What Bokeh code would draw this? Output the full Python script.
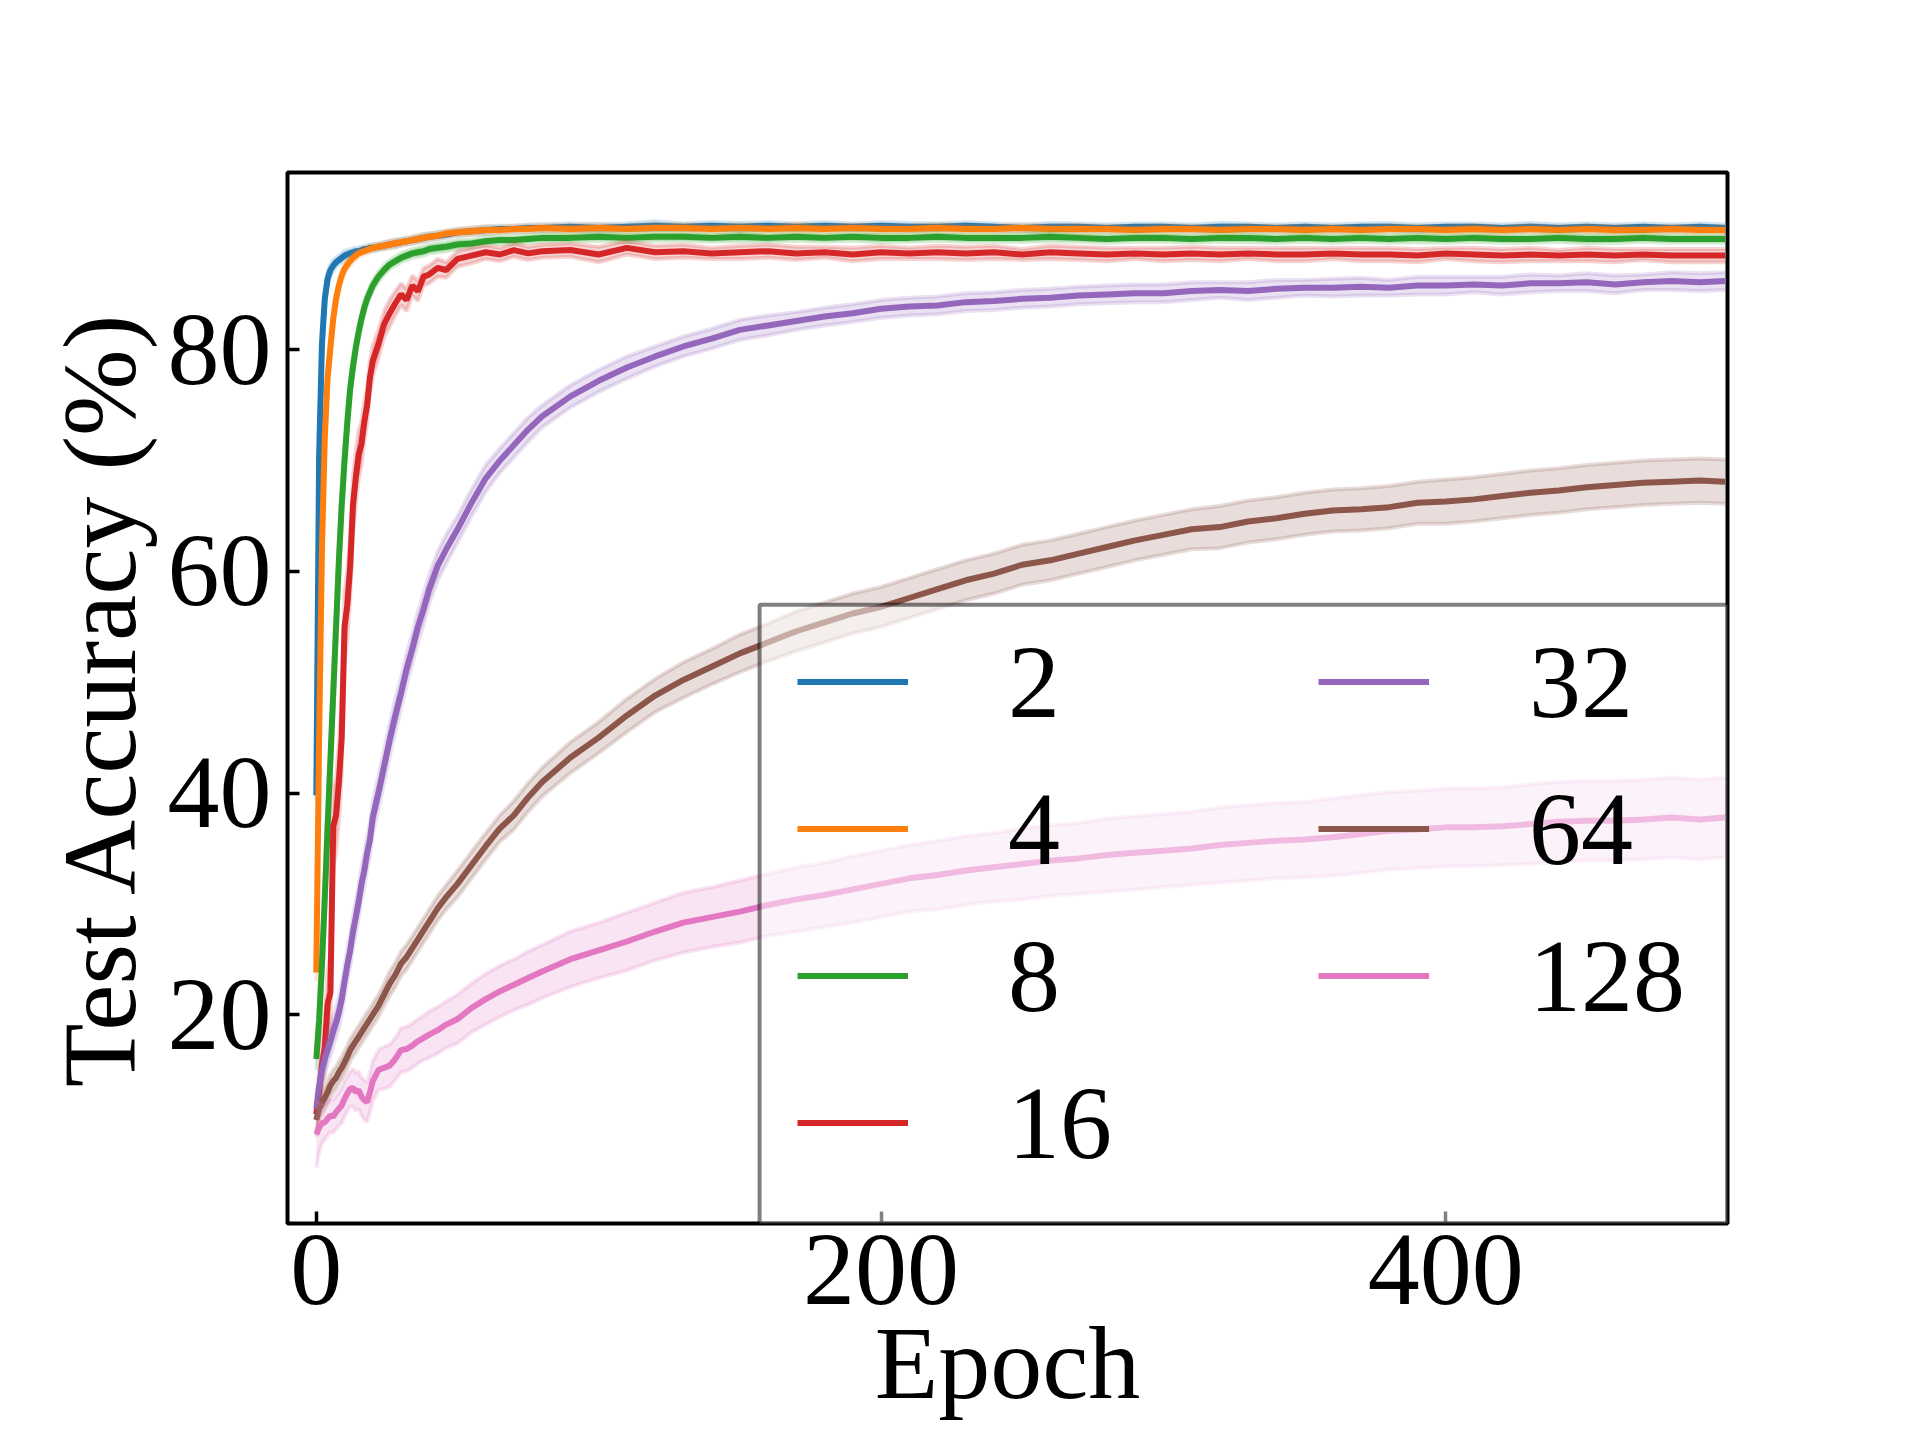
import numpy as np
from bokeh.plotting import figure
from bokeh.models import Range1d, Legend, LegendItem, BoxAnnotation, FixedTicker
from bokeh.embed import file_html
from bokeh.resources import INLINE

# ---------------- data ----------------
epochs = [0, 1, 2, 3, 4, 5, 6, 7, 8, 9, 10, 11, 12, 13, 14, 15, 16, 17, 18, 19, 20,
          22, 24, 26, 28, 30, 32, 34, 36, 38, 40,
          43, 46, 50, 55, 60, 65, 70, 75, 80,
          90, 100, 110, 120, 130, 140, 150, 160, 170, 180,
          190, 200, 210, 220, 230, 240, 250, 260, 270, 280,
          290, 300, 310, 320, 330, 340, 350, 360, 370, 380,
          390, 400, 410, 420, 430, 440, 450, 460, 470, 480, 490,
          499]

labels = ["2", "4", "8", "16", "32", "64", "128"]
colors = ["#1f77b4", "#ff7f0e", "#2ca02c", "#d62728", "#9467bd", "#8c564b", "#e377c2"]

acc_2 = [39.8, 70.5, 80.5, 84.6, 86.4, 87.2, 87.6, 87.9, 88.1, 88.3, 88.5, 88.6, 88.7, 88.8, 88.9, 88.9, 89.0, 89.1, 89.1, 89.2, 89.2,
         89.3, 89.4, 89.5, 89.6, 89.7, 89.8, 89.9, 90.0, 90.1, 90.2,
         90.3, 90.4, 90.6, 90.7, 90.8, 90.9, 90.9, 91.0, 91.0,
         91.1, 91.0, 91.1, 91.2, 91.1, 91.2, 91.1, 91.2, 91.1, 91.2,
         91.1, 91.2, 91.1, 91.1, 91.2, 91.1, 91.0, 91.1, 91.1, 91.0,
         91.1, 91.1, 91.0, 91.1, 91.1, 91.0, 91.1, 91.0, 91.1, 91.1,
         91.0, 91.1, 91.1, 91.0, 91.1, 91.0, 91.1, 91.0, 91.1, 91.0, 91.1,
         91.0]
acc_4 = [23.8, 45.0, 62.0, 72.0, 77.5, 80.2, 82.8, 84.6, 85.8, 86.7, 87.3, 87.7, 88.0, 88.3, 88.5, 88.7, 88.8, 88.9, 89.0, 89.1, 89.2,
         89.3, 89.4, 89.5, 89.6, 89.7, 89.8, 89.9, 90.0, 90.1, 90.2,
         90.3, 90.5, 90.6, 90.7, 90.8, 90.8, 90.9, 90.9, 91.0,
         90.9, 91.0, 90.9, 91.0, 91.0, 90.9, 91.0, 90.9, 91.0, 90.9,
         91.0, 90.9, 90.9, 91.0, 90.9, 90.9, 91.0, 90.9, 90.9, 90.9,
         90.8, 90.9, 90.9, 90.8, 90.9, 90.9, 90.8, 90.9, 90.8, 90.9,
         90.9, 90.8, 90.9, 90.8, 90.9, 90.8, 90.9, 90.8, 90.8, 90.9, 90.8,
         90.8]
acc_8 = [16.0, 19.5, 24.5, 30.5, 37.0, 43.0, 49.0, 55.0, 61.0, 66.0, 70.0, 73.5, 76.5, 78.5, 80.2, 81.6, 82.8, 83.8, 84.6, 85.2, 85.8,
         86.6, 87.2, 87.7, 88.0, 88.3, 88.5, 88.7, 88.8, 88.9, 89.1,
         89.2, 89.3, 89.5, 89.6, 89.8, 89.9, 89.9, 90.0, 90.1,
         90.1, 90.2, 90.1, 90.2, 90.2, 90.1, 90.2, 90.1, 90.2, 90.1,
         90.2, 90.1, 90.1, 90.2, 90.1, 90.1, 90.1, 90.2, 90.1, 90.0,
         90.1, 90.1, 90.0, 90.1, 90.1, 90.0, 90.1, 90.0, 90.1, 90.0,
         90.1, 90.0, 90.1, 90.0, 90.0, 90.1, 90.0, 90.0, 90.1, 90.0, 90.0,
         90.0]
acc_16 = [11.0, 13.0, 15.5, 17.0, 21.0, 22.0, 37.0, 38.0, 41.0, 45.0, 55.0, 57.0, 60.5, 66.0, 68.5, 70.5, 71.5, 73.5, 75.0, 77.5, 79.0,
          80.5, 82.3, 83.3, 84.2, 85.0, 84.5, 85.8, 85.3, 86.6, 86.8,
          87.4, 87.2, 88.2, 88.5, 88.8, 88.6, 89.0, 88.7, 88.9,
          89.0, 88.6, 89.2, 88.8, 88.9, 88.7, 88.8, 88.9, 88.7, 88.8,
          88.6, 88.8, 88.7, 88.8, 88.7, 88.8, 88.6, 88.8, 88.7, 88.6,
          88.7, 88.6, 88.7, 88.6, 88.7, 88.6, 88.6, 88.7, 88.6, 88.6,
          88.5, 88.7, 88.6, 88.5, 88.6, 88.5, 88.6, 88.5, 88.6, 88.5, 88.5,
          88.5]
acc_32 = [11.5, 13.5, 15.0, 16.0, 16.8, 17.6, 18.5, 19.3, 20.2, 21.4, 23.0, 24.5, 25.8, 27.5, 28.8, 30.2, 31.8, 33.0, 34.6, 35.8, 37.8,
          40.0, 42.4, 44.8, 47.0, 49.0, 51.2, 53.0, 55.0, 56.6, 58.4,
          60.5, 62.0, 63.8, 66.2, 68.4, 70.0, 71.4, 72.8, 74.0,
          75.8, 77.2, 78.4, 79.4, 80.3, 81.0, 81.8, 82.2, 82.6, 83.0,
          83.3, 83.7, 83.9, 84.0, 84.3, 84.4, 84.6, 84.7, 84.9, 85.0,
          85.1, 85.1, 85.3, 85.4, 85.3, 85.5, 85.6, 85.6, 85.7, 85.6,
          85.8, 85.8, 85.9, 85.8, 86.0, 86.0, 86.1, 85.9, 86.1, 86.2, 86.1,
          86.2]
acc_64 = [10.5, 11.5, 12.0, 12.5, 13.0, 13.6, 14.0, 14.3, 14.8, 15.2, 15.7, 16.2, 16.8, 17.2, 17.6, 18.0, 18.4, 18.8, 19.2, 19.6, 20.0,
          20.8, 21.8, 22.8, 23.6, 24.6, 25.2, 26.0, 26.8, 27.6, 28.4,
          29.6, 30.6, 31.8, 33.5, 35.2, 36.8, 38.0, 39.6, 41.0,
          43.2, 45.0, 47.0, 48.8, 50.2, 51.4, 52.6, 53.6, 54.6, 55.4,
          56.2, 56.8, 57.6, 58.4, 59.2, 59.8, 60.6, 61.0, 61.6, 62.2,
          62.8, 63.3, 63.8, 64.0, 64.5, 64.8, 65.2, 65.5, 65.6, 65.8,
          66.2, 66.3, 66.5, 66.8, 67.1, 67.3, 67.6, 67.8, 68.0, 68.1, 68.2,
          68.1]
acc_128 = [9.2, 9.8, 10.2, 10.3, 10.6, 10.9, 10.8, 11.2, 11.5, 11.8, 12.4, 12.9, 13.3, 13.4, 13.0, 13.2, 12.6, 12.3, 12.1, 13.0, 14.0,
           15.0, 15.2, 15.4, 16.0, 16.8, 16.9, 17.2, 17.6, 17.9, 18.2,
           18.6, 19.1, 19.6, 20.6, 21.4, 22.1, 22.7, 23.3, 23.9,
           25.0, 25.8, 26.6, 27.5, 28.3, 28.8, 29.3, 29.9, 30.4, 30.8,
           31.3, 31.8, 32.3, 32.6, 33.0, 33.3, 33.6, 33.9, 34.1, 34.4,
           34.6, 34.8, 35.0, 35.3, 35.5, 35.7, 35.8, 36.0, 36.3, 36.6,
           36.7, 36.9, 36.9, 37.0, 37.2, 37.4, 37.5, 37.5, 37.6, 37.8, 37.6,
           37.8]

# half-width of the shaded band around each curve
sd_2 = [0.5, 2.5, 1.6, 0.9, 0.6, 0.5, 0.5, 0.4, 0.4, 0.4, 0.4, 0.4, 0.35, 0.35, 0.3, 0.3, 0.3, 0.3, 0.3, 0.3, 0.3,
        0.3, 0.3, 0.3, 0.35, 0.3, 0.3, 0.3, 0.3, 0.35, 0.3,
        0.3, 0.3, 0.3, 0.3, 0.35, 0.3, 0.3, 0.3, 0.3,
        0.3, 0.35, 0.3, 0.4, 0.3, 0.3, 0.35, 0.3, 0.3, 0.3,
        0.3, 0.3, 0.35, 0.3, 0.3, 0.3, 0.3, 0.35, 0.3, 0.3,
        0.3, 0.3, 0.3, 0.35, 0.3, 0.3, 0.3, 0.3, 0.3, 0.35,
        0.3, 0.3, 0.3, 0.3, 0.35, 0.3, 0.3, 0.3, 0.3, 0.3, 0.3,
        0.3]
sd_4 = [0.8, 3.0, 2.5, 1.8, 1.2, 1.0, 0.8, 0.6, 0.5, 0.5, 0.4, 0.4, 0.4, 0.35, 0.35, 0.3, 0.3, 0.3, 0.3, 0.3, 0.3,
        0.3, 0.3, 0.35, 0.3, 0.3, 0.3, 0.3, 0.35, 0.3, 0.3,
        0.3, 0.3, 0.3, 0.35, 0.3, 0.3, 0.3, 0.3, 0.3,
        0.35, 0.3, 0.3, 0.3, 0.35, 0.3, 0.3, 0.3, 0.4, 0.3,
        0.3, 0.3, 0.3, 0.35, 0.3, 0.3, 0.3, 0.3, 0.35, 0.3,
        0.3, 0.35, 0.3, 0.3, 0.3, 0.3, 0.35, 0.3, 0.3, 0.3,
        0.3, 0.3, 0.35, 0.3, 0.3, 0.3, 0.3, 0.35, 0.3, 0.3, 0.3,
        0.3]
sd_8 = [1.0, 1.5, 2.0, 2.2, 2.3, 2.3, 2.2, 2.0, 1.8, 1.6, 1.4, 1.2, 1.0, 0.9, 0.8, 0.7, 0.6, 0.6, 0.5, 0.5, 0.5,
        0.45, 0.45, 0.4, 0.4, 0.4, 0.4, 0.4, 0.4, 0.4, 0.4,
        0.4, 0.4, 0.4, 0.35, 0.35, 0.35, 0.35, 0.35, 0.35,
        0.35, 0.35, 0.4, 0.35, 0.35, 0.35, 0.4, 0.35, 0.35, 0.35,
        0.35, 0.4, 0.35, 0.35, 0.35, 0.35, 0.35, 0.4, 0.35, 0.35,
        0.35, 0.35, 0.35, 0.35, 0.4, 0.35, 0.35, 0.35, 0.35, 0.35,
        0.4, 0.35, 0.35, 0.35, 0.35, 0.35, 0.4, 0.35, 0.35, 0.35, 0.35,
        0.35]
sd_16 = [1.5, 1.5, 2.0, 2.5, 3.0, 3.5, 3.5, 3.5, 3.5, 3.5, 3.2, 3.0, 2.8, 2.6, 2.4, 2.2, 2.0, 1.8, 1.6, 1.5, 1.4,
         1.3, 1.2, 1.2, 1.1, 1.0, 1.0, 0.9, 0.9, 0.8, 0.8,
         0.8, 0.7, 0.7, 0.7, 0.6, 0.6, 0.6, 0.6, 0.6,
         0.6, 0.7, 0.6, 0.6, 0.6, 0.5, 0.6, 0.6, 0.6, 0.5,
         0.6, 0.6, 0.5, 0.6, 0.6, 0.6, 0.5, 0.6, 0.6, 0.6,
         0.5, 0.6, 0.6, 0.6, 0.5, 0.6, 0.6, 0.5, 0.6, 0.6,
         0.6, 0.5, 0.6, 0.6, 0.6, 0.5, 0.6, 0.6, 0.5, 0.6, 0.6,
         0.6]
sd_32 = [1.0, 1.2, 1.2, 1.2, 1.3, 1.3, 1.3, 1.3, 1.4, 1.4, 1.4, 1.4, 1.4, 1.4, 1.5, 1.5, 1.5, 1.5, 1.5, 1.5, 1.5,
         1.5, 1.5, 1.5, 1.5, 1.4, 1.4, 1.4, 1.4, 1.4, 1.3,
         1.3, 1.3, 1.2, 1.2, 1.2, 1.1, 1.1, 1.1, 1.0,
         1.0, 1.0, 1.0, 0.9, 0.9, 0.9, 0.9, 0.9, 0.8, 0.8,
         0.8, 0.8, 0.8, 0.8, 0.8, 0.8, 0.8, 0.8, 0.8, 0.8,
         0.8, 0.8, 0.8, 0.7, 0.8, 0.8, 0.7, 0.8, 0.8, 0.7,
         0.8, 0.8, 0.7, 0.8, 0.8, 0.7, 0.8, 0.8, 0.7, 0.8, 0.8,
         0.8]
sd_64 = [1.5, 1.0, 1.0, 1.0, 1.0, 1.0, 1.0, 1.0, 1.0, 1.0, 1.0, 1.0, 1.0, 1.0, 1.0, 1.0, 1.0, 1.0, 1.0, 1.0, 1.0,
         1.0, 1.0, 1.1, 1.1, 1.1, 1.1, 1.1, 1.1, 1.1, 1.1,
         1.1, 1.1, 1.2, 1.2, 1.2, 1.2, 1.3, 1.3, 1.3,
         1.4, 1.4, 1.5, 1.5, 1.6, 1.6, 1.7, 1.7, 1.8, 1.8,
         1.8, 1.8, 1.8, 1.8, 1.8, 1.8, 1.8, 1.8, 1.8, 1.8,
         1.8, 1.8, 1.8, 1.9, 1.9, 1.9, 1.9, 1.9, 1.9, 1.9,
         1.9, 2.0, 2.0, 2.0, 2.0, 2.0, 2.0, 2.0, 2.0, 2.0, 2.0,
         2.0]
sd_128 = [3.0, 2.2, 1.8, 1.6, 1.5, 1.5, 1.5, 1.5, 1.5, 1.6, 1.6, 1.6, 1.6, 1.7, 1.7, 1.7, 1.7, 1.8, 1.8, 1.8, 1.8,
          1.8, 1.9, 1.9, 1.9, 2.0, 2.0, 2.0, 2.0, 2.0, 2.1,
          2.1, 2.1, 2.2, 2.2, 2.3, 2.3, 2.3, 2.4, 2.4,
          2.5, 2.5, 2.6, 2.6, 2.7, 2.7, 2.8, 2.8, 2.9, 2.9,
          3.0, 3.0, 3.0, 3.1, 3.1, 3.1, 3.2, 3.2, 3.2, 3.3,
          3.3, 3.3, 3.3, 3.4, 3.4, 3.4, 3.4, 3.5, 3.5, 3.5,
          3.5, 3.5, 3.5, 3.5, 3.6, 3.6, 3.6, 3.6, 3.6, 3.6, 3.6,
          3.6]

x_ticks = [0, 200, 400]
y_ticks = [20, 40, 60, 80]
y_start, y_end = 1.15, 96.0
x_start, x_end = -10.2, 499.8

means = [acc_2, acc_4, acc_8, acc_16, acc_32, acc_64, acc_128]
sds = [sd_2, sd_4, sd_8, sd_16, sd_32, sd_64, sd_128]
for arr in means + sds:
    assert len(arr) == len(epochs), len(arr)

# ---------------- figure ----------------
FONT = "Liberation Serif"
FS = "104px"

p = figure(width=1904, height=1424, output_backend="svg", toolbar_location=None,
           x_range=Range1d(x_start, x_end), y_range=Range1d(y_start, y_end),
           min_border_left=287, min_border_right=177, min_border_top=172, min_border_bottom=201)
p.background_fill_color = "white"
p.border_fill_color = "white"
p.outline_line_color = "black"
p.outline_line_width = 4
p.xgrid.visible = False
p.ygrid.visible = False

x = np.array(epochs, dtype=float)
line_renderers = []
for m, s, c in zip(means, sds, colors):
    m = np.array(m)
    s = np.array(s)
    lo = m - s
    hi = m + s
    p.varea(x=x, y1=lo, y2=hi, fill_color=c, fill_alpha=0.2)
    p.line(x, lo, line_color=c, line_alpha=0.2, line_width=4)
    p.line(x, hi, line_color=c, line_alpha=0.2, line_width=4)
    r = p.line(x, m, line_color=c, line_width=6)
    line_renderers.append(r)

for ax in (p.xaxis[0], p.yaxis[0]):
    ax.axis_line_color = None
    ax.major_tick_in = 12
    ax.major_tick_out = 0
    ax.major_tick_line_width = 3.5
    ax.major_tick_line_color = "black"
    ax.minor_tick_line_color = None
    ax.major_label_text_font = FONT
    ax.major_label_text_font_size = FS
    ax.major_label_text_color = "black"
    ax.axis_label_text_font = FONT
    ax.axis_label_text_font_size = FS
    ax.axis_label_text_font_style = "normal"
    ax.axis_label_text_color = "black"

p.xaxis.ticker = FixedTicker(ticks=x_ticks)
p.yaxis.ticker = FixedTicker(ticks=y_ticks)
p.xaxis.major_label_standoff = 12
p.yaxis.major_label_standoff = 16

p.yaxis.axis_label = "Test Accuracy (%)"
p.yaxis.axis_label_standoff = 8
p.xaxis.axis_label = "Epoch"
p.xaxis.axis_label_standoff = -2

# legend frame (semi-transparent white, grey edge) in the lower right
p.add_layout(BoxAnnotation(left=157.0, top=57.0, fill_color="white", fill_alpha=0.5,
                           line_color="black", line_alpha=0.5, line_width=4, level="annotation"))

def make_legend(idx, loc):
    items = [LegendItem(label=labels[i], renderers=[line_renderers[i]]) for i in idx]
    lg = Legend(items=items, location=loc, orientation="vertical",
                label_text_font=FONT, label_text_font_size=FS, label_text_color="black",
                glyph_width=111, glyph_height=147, label_height=147, label_standoff=100,
                spacing=0, padding=0, margin=0,
                background_fill_alpha=0, border_line_alpha=0)
    return lg

p.add_layout(make_legend([0, 1, 2, 3], (510, 27)))
p.add_layout(make_legend([4, 5, 6], (1031, 174)))

open("out.html", "w").write(file_html(p, INLINE))
